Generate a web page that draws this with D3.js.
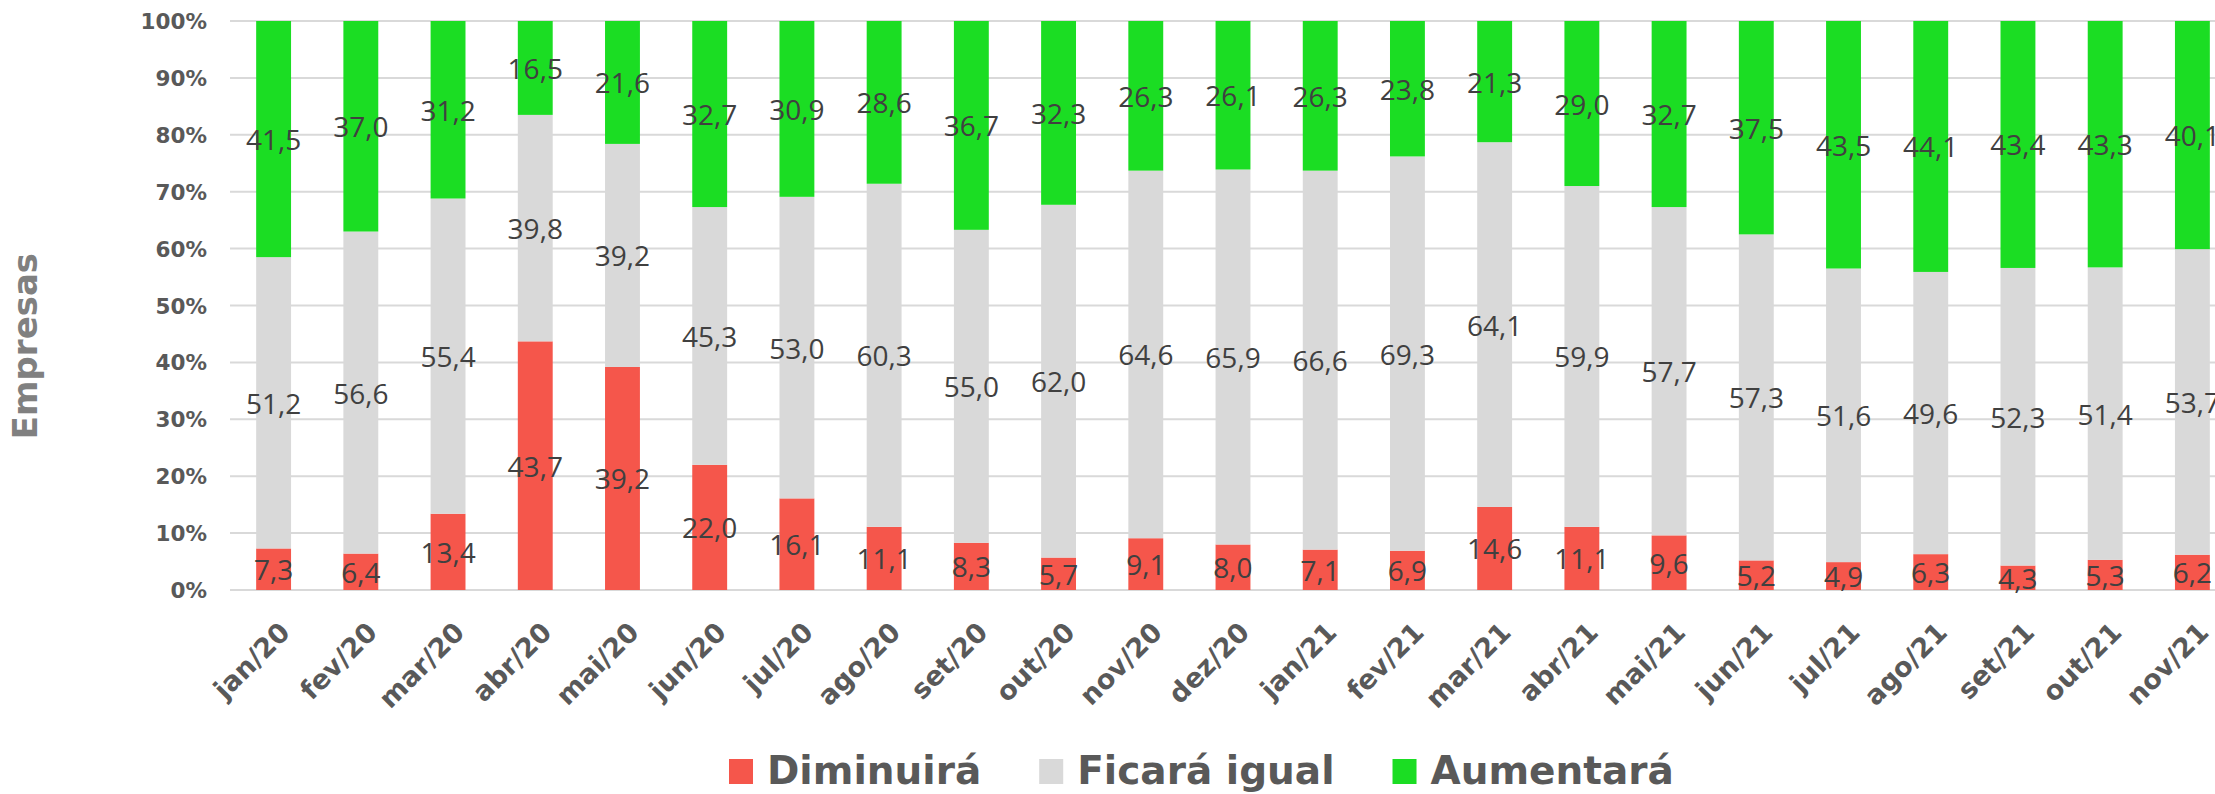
<!DOCTYPE html>
<html>
<head>
<meta charset="utf-8">
<script src="https://cdn.jsdelivr.net/npm/d3@7"></script>
<style>
  html, body { margin: 0; padding: 0; background: #ffffff; }
  svg { display: block; }
</style>
</head>
<body>
<svg id="chart" width="2215" height="794"></svg>
<script>
const months = ["jan/20","fev/20","mar/20","abr/20","mai/20","jun/20","jul/20","ago/20","set/20","out/20","nov/20","dez/20",
                "jan/21","fev/21","mar/21","abr/21","mai/21","jun/21","jul/21","ago/21","set/21","out/21","nov/21"];
const diminuira = [7.3, 6.4, 13.4, 43.7, 39.2, 22.0, 16.1, 11.1, 8.3, 5.7, 9.1, 8.0, 7.1, 6.9, 14.6, 11.1, 9.6, 5.2, 4.9, 6.3, 4.3, 5.3, 6.2];
const ficaraIgual = [51.2, 56.6, 55.4, 39.8, 39.2, 45.3, 53.0, 60.3, 55.0, 62.0, 64.6, 65.9, 66.6, 69.3, 64.1, 59.9, 57.7, 57.3, 51.6, 49.6, 52.3, 51.4, 53.7];
const aumentara = [41.5, 37.0, 31.2, 16.5, 21.6, 32.7, 30.9, 28.6, 36.7, 32.3, 26.3, 26.1, 26.3, 23.8, 21.3, 29.0, 32.7, 37.5, 43.5, 44.1, 43.4, 43.3, 40.1];
const seriesNames = ["Diminuirá", "Ficará igual", "Aumentará"];
const seriesColors = ["#F5564B", "#D9D9D9", "#1BDD23"];
const yTickValues = [0, 0.1, 0.2, 0.3, 0.4, 0.5, 0.6, 0.7, 0.8, 0.9, 1.0];
const yTitle = "Empresas";

const rows = months.map((m, i) => ({ month: m, "Diminuirá": diminuira[i], "Ficará igual": ficaraIgual[i], "Aumentará": aumentara[i] }));

const svg = d3.select("#chart");
const W = 2215, H = 794;
const plotLeft = 230, plotRight = 2236, plotTop = 21, plotBottom = 590;

const x = d3.scaleBand().domain(months).range([plotLeft, plotRight]).paddingInner(0.6).paddingOuter(0.3);
const y = d3.scaleLinear().domain([0, 1]).range([plotBottom, plotTop]);
const color = d3.scaleOrdinal().domain(seriesNames).range(seriesColors);

const stack = d3.stack().keys(seriesNames).offset(d3.stackOffsetExpand);
const stacked = stack(rows);

// gridlines
svg.append("g").selectAll("line").data(yTickValues).join("line")
  .attr("x1", plotLeft).attr("x2", W)
  .attr("y1", d => y(d)).attr("y2", d => y(d))
  .attr("stroke", "#D9D9D9").attr("stroke-width", 2);

// bars
const layers = svg.append("g").selectAll("g").data(stacked).join("g")
  .attr("fill", d => color(d.key));
layers.selectAll("rect").data(d => d).join("rect")
  .attr("x", d => x(d.data.month))
  .attr("width", x.bandwidth())
  .attr("y", d => y(d[1]))
  .attr("height", d => y(d[0]) - y(d[1]));

// data labels
const fmt = v => d3.format(".1f")(v).replace(".", ",");
const labels = svg.append("g");
stacked.forEach(layer => {
  labels.selectAll(null).data(layer).join("text")
    .attr("x", d => x(d.data.month) + x.bandwidth() / 2)
    .attr("y", d => y((d[0] + d[1]) / 2))
    .attr("text-anchor", "middle")
    .attr("dominant-baseline", "central")
    .attr("font-family", "'Open Sans', sans-serif")
    .attr("font-size", 28)
    .attr("fill", "#404040")
    .text(d => fmt(d.data[layer.key]));
});

// y axis
const yAxis = d3.axisLeft(y).tickValues(yTickValues).tickFormat(d3.format(".0%")).tickSize(0).tickPadding(0);
const yg = svg.append("g").attr("transform", `translate(207,0)`).call(yAxis);
yg.select(".domain").remove();
yg.selectAll("text")
  .attr("font-family", "'DejaVu Sans', sans-serif")
  .attr("font-weight", "bold")
  .attr("font-size", 21.5)
  .attr("fill", "#595959")
  .attr("dy", "0.35em");

// x axis labels
const xAxis = d3.axisBottom(x).tickSize(0).tickPadding(0);
const xg = svg.append("g").attr("transform", `translate(0,${plotBottom})`).call(xAxis);
xg.select(".domain").remove();
xg.selectAll("text")
  .attr("font-family", "'DejaVu Sans', sans-serif")
  .attr("font-weight", "bold")
  .attr("font-size", 27)
  .attr("fill", "#595959")
  .attr("text-anchor", "end")
  .attr("dy", null)
  .attr("y", 0)
  .attr("transform", "translate(18,44) rotate(-45)");

// y title
svg.append("text")
  .attr("transform", `translate(37,346) rotate(-90)`)
  .attr("text-anchor", "middle")
  .attr("font-family", "'DejaVu Sans', sans-serif")
  .attr("font-weight", "bold")
  .attr("font-size", 34)
  .attr("fill", "#808080")
  .text(yTitle);

// legend
const legend = svg.append("g");
let lx = 729;
seriesNames.forEach((name, i) => {
  legend.append("rect").attr("x", lx).attr("y", 759).attr("width", 24).attr("height", 25).attr("fill", color(name));
  const t = legend.append("text").attr("x", lx + 38).attr("y", 784)
    .attr("font-family", "'DejaVu Sans', sans-serif")
    .attr("font-weight", "bold")
    .attr("font-size", 39)
    .attr("fill", "#595959")
    .text(name);
  lx += 38 + t.node().getComputedTextLength() + 58;
});
</script>
</body>
</html>
